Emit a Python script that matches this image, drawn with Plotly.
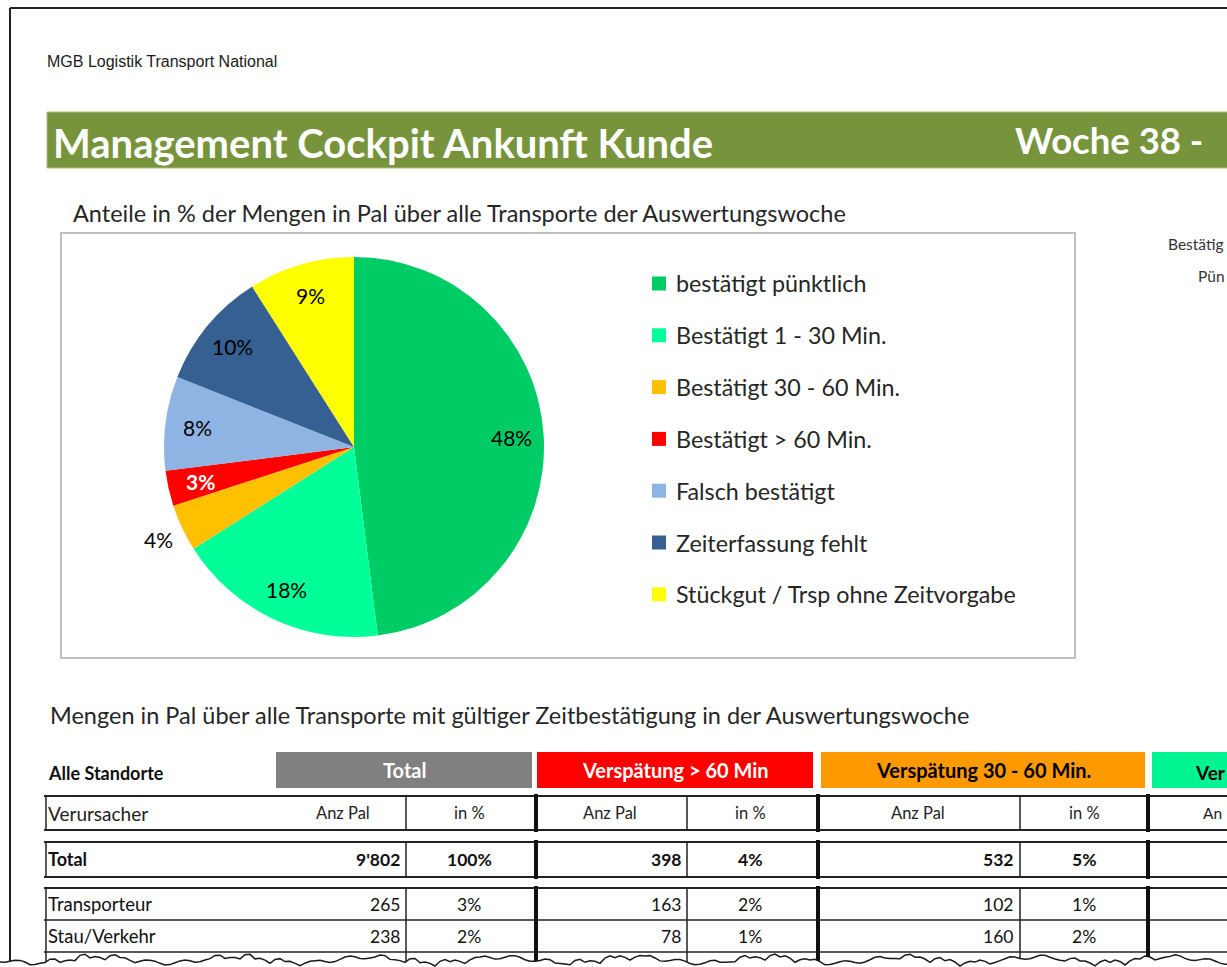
import math
import plotly.graph_objects as go

W, H = 1227, 967

# ---------------- data ----------------
pie_labels = ["bestätigt pünktlich", "Bestätigt 1 - 30 Min.", "Bestätigt 30 - 60 Min.",
              "Bestätigt > 60 Min.", "Falsch bestätigt", "Zeiterfassung fehlt",
              "Stückgut / Trsp ohne Zeitvorgabe"]
pie_values = [48, 18, 4, 3, 8, 10, 9]
pie_colors = ["#00CC66", "#00FF99", "#FFC000", "#FF0000", "#8EB4E3", "#376092", "#FFFF00"]
pie_label_outside = [False, False, True, False, False, False, False]
pie_text_colors = ["black", "black", "black", "white", "black", "black", "black"]
pie_text_weights = ["normal", "normal", "normal", "bold", "normal", "normal", "normal"]

row_names = ["Total", "Transporteur", "Stau/Verkehr"]
total_pal = [9802, 265, 238]
total_pct = [100, 3, 2]
late60_pal = [398, 163, 78]
late60_pct = [4, 2, 1]
late30_pal = [532, 102, 160]
late30_pct = [5, 1, 2]

group_titles = ["Total", "Verspätung > 60 Min", "Verspätung 30 - 60 Min.", "Ver"]
group_colors = ["#808080", "#FF0000", "#FF9900", "#00F592"]
group_text_colors = ["white", "white", "black", "black"]

header_title = "Management Cockpit Ankunft Kunde"
week_title = "Woche 38 -"
company = "MGB Logistik Transport National"
pie_title = "Anteile in % der Mengen in Pal über alle Transporte der Auswertungswoche"
table_title = "Mengen in Pal über alle Transporte mit gültiger Zeitbestätigung in der Auswertungswoche"
side_texts = ["Bestätig", "Pün"]

CAL = "Lato, 'Open Sans', sans-serif"
ARIAL = "'Liberation Sans', Arial, sans-serif"


def X(px):
    return px / W


def Y(py):
    return 1 - py / H


shapes = []
annotations = []


def rect(x0, y0, x1, y1, fill="rgba(0,0,0,0)", lc="rgba(0,0,0,0)", lw=0):
    shapes.append(dict(type="rect", xref="paper", yref="paper", x0=X(x0), x1=X(x1),
                       y0=Y(y1), y1=Y(y0), fillcolor=fill, line=dict(color=lc, width=lw),
                       layer="above"))


def line(x0, y0, x1, y1, color="#222222", lw=1.5):
    shapes.append(dict(type="line", xref="paper", yref="paper", x0=X(x0), x1=X(x1),
                       y0=Y(y0), y1=Y(y1), line=dict(color=color, width=lw), layer="above"))


def text(x, y, s, size, color="#222222", family=CAL, xanchor="left", weight="normal"):
    annotations.append(dict(xref="paper", yref="paper", x=X(x), y=Y(y), text=s,
                            showarrow=False, xanchor=xanchor, yanchor="middle",
                            font=dict(size=size, color=color, family=family, weight=weight)))


def fmt(v):
    return f"{v:,}".replace(",", "'")


# ---------------- page frame & header ----------------
line(10, 8, W + 2, 8, "#222222", 2)
line(10, 8, 10, 962, "#222222", 2)
text(45, 62, company, 16, "#1a1a1a", ARIAL)
rect(47, 112, W + 5, 168, fill="#77933C", lc="#A9C07A", lw=1)
text(51, 143, header_title, 40, "white", CAL, weight="bold")
text(1013, 140, week_title, 36.5, "white", CAL, weight="bold")
text(1166, 244, side_texts[0], 15.5, "#333333", CAL)
text(1196, 276, side_texts[1], 15.5, "#333333", CAL)

# ---------------- pie chart block ----------------
text(71, 213, pie_title, 23.5, "#262626", CAL)
rect(61, 233, 1075, 658, lc="#BFBFBF", lw=2)

PIE_CX, PIE_CY, PIE_R = 354, 447, 190
fig = go.Figure()
fig.add_trace(go.Pie(
    labels=pie_labels, values=pie_values, sort=False, direction="clockwise", rotation=0,
    marker=dict(colors=pie_colors, line=dict(color="white", width=0)),
    textinfo="none",
    domain=dict(x=[X(PIE_CX - PIE_R), X(PIE_CX + PIE_R)],
                y=[Y(PIE_CY + PIE_R), Y(PIE_CY - PIE_R)]),
    showlegend=False, hoverinfo="label+percent",
))

# data labels: placed along each slice's bisector, derived from the values
total_v = sum(pie_values)
cum = 0
for v, outside, tc, tw in zip(pie_values, pie_label_outside, pie_text_colors, pie_text_weights):
    mid = (cum + v / 2) / total_v
    cum += v
    theta = 2 * math.pi * mid
    rho = 1.14 if outside else 0.83
    lx = PIE_CX + rho * PIE_R * math.sin(theta)
    ly = PIE_CY - rho * PIE_R * math.cos(theta)
    text(lx, ly, f"{round(100 * v / total_v)}%", 21, tc, CAL, "center", tw)

# legend
for i, (lab, col) in enumerate(zip(pie_labels, pie_colors)):
    yc = 283.5 + i * 51.8
    rect(652, yc - 7, 666, yc + 7, fill=col)
    text(674, yc, lab, 23.3, "#262626", CAL)

# ---------------- table block ----------------
text(48, 715, table_title, 23.5, "#262626", CAL)
text(46, 773, "Alle Standorte", 18, "#111111", CAL, weight="bold")

band_x = [(276, 532), (537, 813), (821, 1145), (1152, 1500)]
for (bx0, bx1), title, col, tcol in zip(band_x, group_titles, group_colors, group_text_colors):
    rect(bx0, 752, bx1, 788, fill=col)
    if bx1 < W:
        text((bx0 + bx1) / 2, 770, title, 20, tcol, CAL, "center", "bold")
    else:
        text(1193, 772, title, 19, tcol, CAL, "left", "bold")

thin_x = [46, 406, 687, 1020]
thick_x = [536, 818, 1148]
row_groups = [(796, 830, []), (842, 877, []), (888, 990, [920, 952])]
for top, bot, inner in row_groups:
    b = min(bot, 965)
    line(44, top, W + 2, top, "#222222", 2)
    if bot < 960:
        line(44, bot, W + 2, bot, "#222222", 2)
    for yy in inner:
        line(44, yy, W + 2, yy, "#222222", 1.5)
    for xx in thin_x:
        line(xx, top, xx, b, "#222222", 1.5)
    for xx in thick_x:
        line(xx, top - 2, xx, b + 2, "#111111", 4)

# header row
hy = 813
text(46, hy, "Verursacher", 19, "#222222", CAL)
for cx in (343, 610, 918):
    text(cx, hy, "Anz Pal", 16.5, "#222222", CAL, "center")
for cx in (469, 750, 1084):
    text(cx, hy, "in %", 16.5, "#222222", CAL, "center")
text(1201, hy, "An", 15.5, "#222222", CAL, "left")

# data rows
row_y = [859, 904, 936]
for i, name in enumerate(row_names):
    wgt = "bold" if i == 0 else "normal"
    yy = row_y[i]
    text(46, yy, name, 18.5 if i else 18, "#111111", CAL, weight=wgt)
    text(402, yy, fmt(total_pal[i]), 17.5, "#111111", CAL, "right", wgt)
    text(469, yy, f"{total_pct[i]}%", 17.5, "#111111", CAL, "center", wgt)
    text(683, yy, fmt(late60_pal[i]), 17.5, "#111111", CAL, "right", wgt)
    text(750, yy, f"{late60_pct[i]}%", 17.5, "#111111", CAL, "center", wgt)
    text(1015, yy, fmt(late30_pal[i]), 17.5, "#111111", CAL, "right", wgt)
    text(1084, yy, f"{late30_pct[i]}%", 17.5, "#111111", CAL, "center", wgt)

# ---------------- torn bottom edge (decoration) ----------------
pts = []
k = 0
xx = 0.0
while xx <= W + 6:
    yy = (960 + 3.0 * math.sin(0.047 * xx) + 2.0 * math.sin(0.19 * xx + 1.3)
          + 1.5 * (1 if k % 3 == 0 else -1) * math.sin(0.61 * xx) ** 2)
    pts.append((min(xx, W + 2), yy))
    xx += 5
    k += 1
path = "M " + " L ".join(f"{X(px):.5f},{Y(py):.5f}" for px, py in pts)
fill_path = path + f" L {X(W + 2):.5f},{Y(H + 2):.5f} L {X(-2):.5f},{Y(H + 2):.5f} Z"
shapes.append(dict(type="path", xref="paper", yref="paper", path=fill_path,
                   fillcolor="white", line=dict(width=0), layer="above"))
shapes.append(dict(type="path", xref="paper", yref="paper", path=path,
                   line=dict(color="#1a1a1a", width=1.5), layer="above"))

fig.update_layout(
    width=W, height=H, margin=dict(l=0, r=0, t=0, b=0),
    paper_bgcolor="white", plot_bgcolor="white",
    shapes=shapes, annotations=annotations, showlegend=False,
)
fig.write_html("out.html", config={"displayModeBar": False},
               post_script="document.body.style.margin='0px';document.body.style.overflow='hidden';")
